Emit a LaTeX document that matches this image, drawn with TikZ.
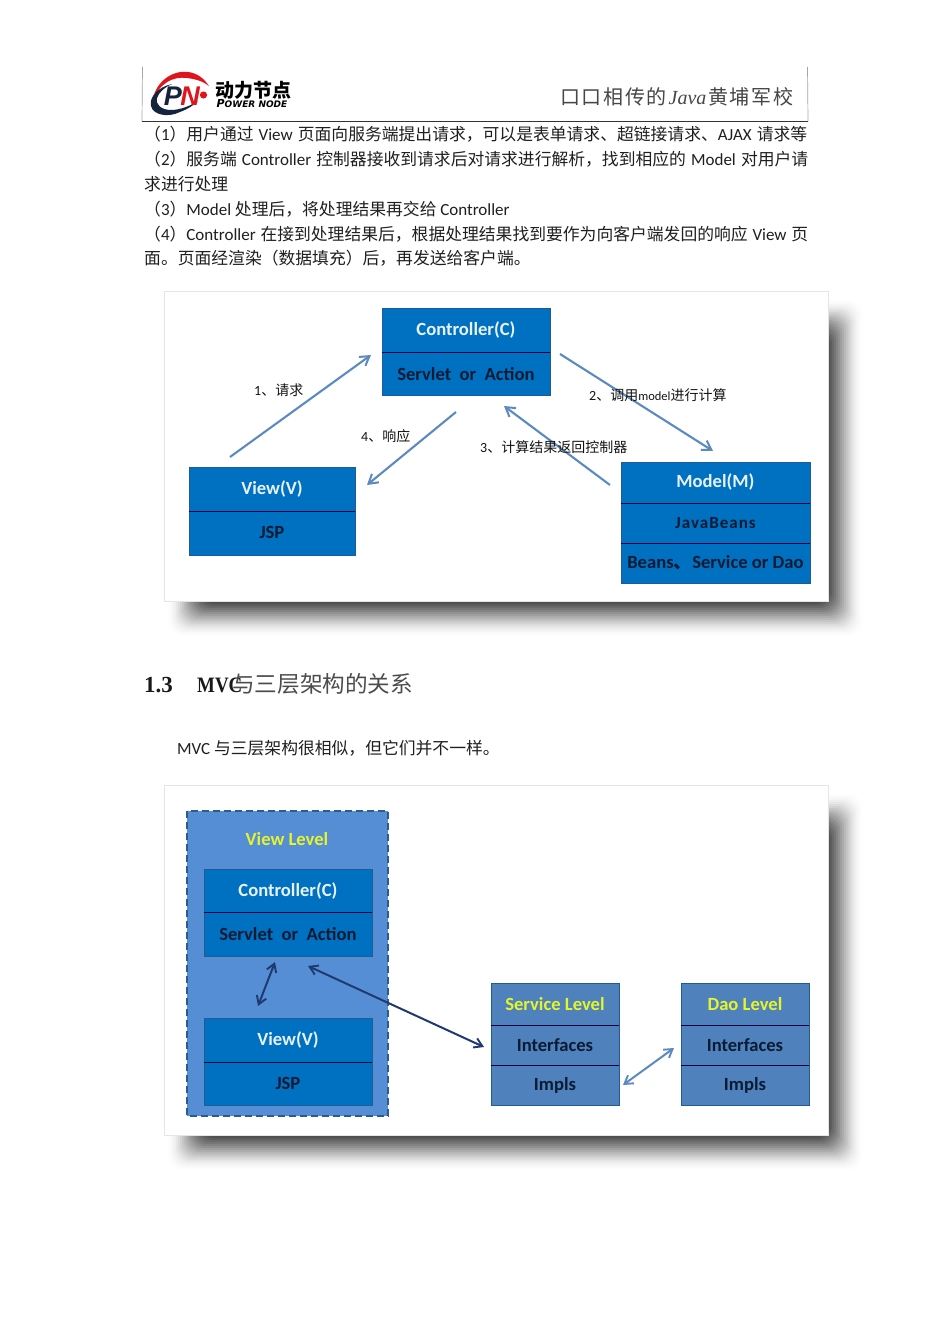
\documentclass[tikz,border=0pt]{standalone}
\usepackage{fontspec}
\setmainfont{Carlito}
\newfontfamily\cj{Noto Sans CJK SC}
\newfontfamily\lsans{Liberation Sans}
\newfontfamily\dsans{DejaVu Sans}
\newfontfamily\lserif[FakeStretch=0.86]{Liberation Serif}
\newfontfamily\lserifw{Liberation Serif}
\newfontfamily\lat{Carlito}
\newcommand{\la}[1]{{\fontsize{17}{17}\lat #1}}
\usetikzlibrary{arrows.meta}
\definecolor{cellblue}{HTML}{0070C0}
\definecolor{cellline}{HTML}{1F5C94}
\definecolor{levelblue}{HTML}{558ED5}
\definecolor{leveldash}{HTML}{2B5C8C}
\definecolor{slateblue}{HTML}{4F81BD}
\definecolor{arrowblue}{HTML}{5C8AC0}
\definecolor{navyarrow}{HTML}{1F3A70}
\definecolor{darktext}{HTML}{0B1B33}
\definecolor{paletext}{HTML}{E8F2FA}
\definecolor{yellowtext}{HTML}{E6F52A}
\definecolor{logored}{HTML}{E0141A}
\definecolor{logodark}{HTML}{14243C}
\tikzset{
  cellbox/.style={draw=cellline,line width=.9pt,fill=cellblue,inner sep=0pt,anchor=north west,font=\fontsize{18.6}{18.6}\selectfont\bfseries},
  slatebox/.style={cellbox,fill=slateblue},
  headtext/.style={text=paletext},
  bodytext/.style={text=darktext},
  yellowlabel/.style={text=yellowtext},
  seprule/.style={draw=black!75!blue,line width=1pt},
  flowarrow/.style={draw=arrowblue,line width=2.1pt,-{Straight Barb[length=9pt,width=11pt,line width=2pt]}},
  bothblue/.style={draw=arrowblue,line width=2pt,{Straight Barb[length=8pt,width=10pt,line width=1.9pt]}-{Straight Barb[length=8pt,width=10pt,line width=1.9pt]}},
  bothnavy/.style={bothblue,draw=navyarrow},
  paraline/.style={anchor=west,inner sep=0pt,font=\fontsize{16.8}{17}\cj,text=black!88},
  flowlabel/.style={inner sep=0pt,anchor=west,text=black!92,font=\fontsize{14}{14}\selectfont},
  card/.style={fill=white,draw=black!10,line width=.6pt},
}
% \cellnode{name}{style}{x0}{y0}{x1}{y1}{text}
\newcommand{\cellnode}[7]{%
  \pgfmathsetmacro{\cw}{#5-#3}\pgfmathsetmacro{\ch}{#6-#4}%
  \node[#2,minimum width=\cw pt,minimum height=\ch pt] (#1) at (#3-.5,#4-.5) {#7};}
% soft shadow
\newcommand{\softshadow}[4]{%
  \foreach \g in {20,18,...,-20}{%
    \pgfmathsetmacro{\op}{.006+.15*((20-\g)/40)^1.1}%
    \fill[black,opacity=\op,rounded corners=14pt] (#1-\g,#2-\g) rectangle (#3+\g,#4+\g);}}
\begin{document}
\begin{tikzpicture}[x=1pt,y=-1pt]
\useasboundingbox (0,0) rectangle (950,1343);
\fill[white] (0,0) rectangle (950,1343);

% header rules
\coordinate (hl) at (142,121.5); \coordinate (hr) at (808,121.5);
\coordinate (hlt) at (142.5,67); \coordinate (hrt) at (807.5,67);
\draw[black!35,line width=.7pt] (hlt) -- (hl);
\draw[black!35,line width=.7pt] (hrt) -- (hr);
\draw[black!80,line width=1.1pt] (hl) -- (hr);

% logo
\fill[logored] (153,99) .. controls (156,82) and (172,70) .. (188,72)
  .. controls (196,73) and (203,77) .. (209,86)
  .. controls (201,80) and (194,79) .. (187,78)
  .. controls (172,76) and (160,84) .. (153,99) -- cycle;
\fill[logodark] (172,84) .. controls (158,87) and (149,97) .. (151,106)
  .. controls (153,115) and (168,118) .. (180,112)
  .. controls (188,109) and (194,105) .. (198,101)
  .. controls (190,106) and (180,110) .. (171,110)
  .. controls (161,110) and (155,104) .. (157,98)
  .. controls (159,92) and (165,87) .. (172,84) -- cycle;
\node[inner sep=0pt,text=logodark,font=\fontsize{27}{27}\lsans\bfseries\itshape] (logoP) at (173,96) {P};
\node[inner sep=0pt,text=logored,font=\fontsize{27}{27}\lsans\bfseries\itshape] (logoN) at (190,96) {N};
\fill[logored] (203.5,95) circle (3.6);
\node[inner sep=0pt,text=black,font=\fontsize{19}{19}\cj\bfseries] (logocn) at (253,90) {动力节点};
\node[inner sep=0pt,text=black,font=\fontsize{11}{11}\dsans\bfseries\itshape] (logoen) at (252,104) {P\fontsize{9}{9}\selectfont OWER NODE};

% slogan
\node[inner sep=0pt,anchor=west,text=black!72,font=\fontsize{20}{20}\selectfont] (slogan) at (560,96.5)
 {\hbox to 233pt{\cj 口\hfil 口\hfil 相\hfil 传\hfil 的\hfil{\itshape\fontspec{Liberation Serif}Java}\hfil\cj 黄\hfil 埔\hfil 军\hfil 校}};

% paragraph
\node[paraline] (p1) at (144,134.5) {\hbox to 663pt{（\la{1}）用户通过 \la{View} 页面向服务端提出请求，可以是表单请求、超链接请求、\la{AJAX} 请求等}};
\node[paraline] (p2) at (144,159.5) {\hbox to 664pt{（\la{2}）服务端 \la{Controller} 控制器接收到请求后对请求进行解析，找到相应的 \la{Model} 对用户请}};
\node[paraline] (p3) at (144,184.5) {求进行处理};
\node[paraline] (p4) at (144,209.5) {（\la{3}）\la{Model} 处理后，将处理结果再交给 \la{Controller}};
\node[paraline] (p5) at (144,234) {\hbox to 664pt{（\la{4}）\la{Controller} 在接到处理结果后，根据处理结果找到要作为向客户端发回的响应 \la{View} 页}};
\node[paraline] (p6) at (144,258.5) {面。页面经渲染（数据填充）后，再发送给客户端。};

% first card
\softshadow{188}{320}{842}{616}
\draw[card] (164.5,291.5) rectangle (828,601);
\cellnode{ctrlA}{cellbox,headtext}{382}{308}{550}{352.5}{Controller(C)}
\cellnode{ctrlB}{cellbox,bodytext}{382}{352.5}{550}{395}{Servlet\ \ or\ \ Action}
\cellnode{viewA}{cellbox,headtext}{189}{467}{355}{511}{View(V)}
\cellnode{viewB}{cellbox,bodytext}{189}{511}{355}{555}{JSP}
\cellnode{modelA}{cellbox,headtext}{621}{462}{810}{503}{Model(M)}
\cellnode{modelB}{cellbox,bodytext,font=\addfontfeature{LetterSpace=6}\fontsize{17}{17}\selectfont\bfseries}{621}{503}{810}{543}{JavaBeans}
\cellnode{modelC}{cellbox,bodytext}{621}{543}{810}{583}{Beans{\cj 、}Service or Dao}
\draw[seprule] (ctrlA.south west) -- (ctrlA.south east);
\draw[seprule] (viewA.south west) -- (viewA.south east);
\draw[seprule] (modelA.south west) -- (modelA.south east);
\draw[seprule] (modelB.south west) -- (modelB.south east);
\coordinate (a1s) at (230,457); \coordinate (a1e) at (371,355);
\coordinate (a2s) at (560,354); \coordinate (a2e) at (713,451);
\coordinate (a3s) at (610,485); \coordinate (a3e) at (504,406);
\coordinate (a4s) at (456,412); \coordinate (a4e) at (367,485);
\draw[flowarrow] (a1s) -- (a1e);
\draw[flowarrow] (a2s) -- (a2e);
\draw[flowarrow] (a3s) -- (a3e);
\draw[flowarrow] (a4s) -- (a4e);
\node[flowlabel] (l1) at (254,390) {1{\cj 、请求}};
\node[flowlabel] (l2) at (589,395) {2{\cj 、调用}{\fontsize{12.5}{12}\selectfont model}{\cj 进行计算}};
\node[flowlabel] (l3) at (480,447) {3{\cj 、计算结果返回控制器}};
\node[flowlabel] (l4) at (361,436) {4{\cj 、响应}};

% heading
\node[inner sep=0pt,anchor=west,font=\fontsize{23}{23}\lserifw\bfseries,text=black!90] (h1) at (144,685) {1.3};
\node[inner sep=0pt,anchor=west,font=\fontsize{22}{22}\lserif\bfseries,text=black!90] (h2) at (197,685) {MVC};
\node[inner sep=0pt,anchor=west,font=\fontsize{22.6}{22}\cj,text=black!70] (h3) at (232,684) {与三层架构的关系};
\node[paraline] (intro) at (177,748.5) {\la{MVC} 与三层架构很相似，但它们并不一样。};

% second card
\softshadow{188}{814}{842}{1150}
\draw[card] (164.5,785.5) rectangle (828,1135);
\draw[draw=leveldash,line width=2pt,dash pattern=on 7pt off 4pt,fill=levelblue] (187,811) rectangle (388,1116);
\node[inner sep=0pt,yellowlabel,font=\fontsize{18.6}{18.6}\selectfont\bfseries] (lvview) at (287,839) {View Level};
\cellnode{ctrl2A}{cellbox,headtext}{204}{869}{372}{912.5}{Controller(C)}
\cellnode{ctrl2B}{cellbox,bodytext}{204}{912.5}{372}{956}{Servlet\ \ or\ \ Action}
\cellnode{view2A}{cellbox,headtext}{204}{1018}{372}{1062}{View(V)}
\cellnode{view2B}{cellbox,bodytext}{204}{1062}{372}{1105}{JSP}
\cellnode{svcA}{slatebox,yellowlabel}{491}{983}{619}{1025}{Service Level}
\cellnode{svcB}{slatebox,bodytext}{491}{1025}{619}{1065}{Interfaces}
\cellnode{svcC}{slatebox,bodytext}{491}{1065}{619}{1105}{Impls}
\cellnode{daoA}{slatebox,yellowlabel}{681}{983}{809}{1025}{Dao Level}
\cellnode{daoB}{slatebox,bodytext}{681}{1025}{809}{1065}{Interfaces}
\cellnode{daoC}{slatebox,bodytext}{681}{1065}{809}{1105}{Impls}
\foreach \n in {ctrl2A,view2A,svcA,svcB,daoA,daoB}{
  \draw[seprule] (\n.south west) -- (\n.south east);}
\coordinate (b1s) at (275,962); \coordinate (b1e) at (258,1006);
\coordinate (b2s) at (308,966); \coordinate (b2e) at (484,1047);
\coordinate (b3s) at (623,1085); \coordinate (b3e) at (674,1048);
\draw[bothnavy] (b1s) -- (b1e);
\draw[bothnavy] (b2s) -- (b2e);
\draw[bothblue] (b3s) -- (b3e);
\end{tikzpicture}
\end{document}
